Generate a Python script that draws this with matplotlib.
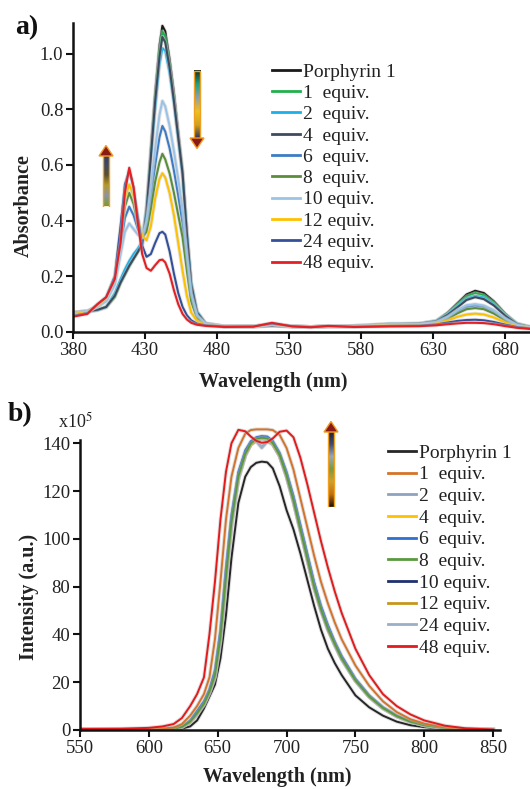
import matplotlib
matplotlib.use('Agg')
import numpy as np
import matplotlib.pyplot as plt
import matplotlib.patheffects as pe
from matplotlib.lines import Line2D
from matplotlib.patches import Polygon, Rectangle
from matplotlib.colors import LinearSegmentedColormap

plt.rcParams['font.family'] = ['Liberation Serif', 'DejaVu Serif']
plt.rcParams['mathtext.fontset'] = 'stix'

# ---------------- data: panel a (absorbance) ----------------
labels = ["Porphyrin 1", "1  equiv.", "2  equiv.", "4  equiv.", "6  equiv.",
          "8  equiv.", "10 equiv.", "12 equiv.", "24 equiv.", "48 equiv."]

wl_abs = [380, 390, 397, 403, 409, 413, 416, 419, 422, 425, 428, 431, 434, 437, 440,
          442, 444, 447, 450, 453, 456, 459, 462, 466, 472, 485, 505, 518, 532, 545,
          557, 575, 600, 620, 632, 640, 647, 653, 659, 665, 672, 680, 688, 697]

abs_p1 = [0.070, 0.075, 0.080, 0.090, 0.130, 0.180, 0.210, 0.240, 0.265, 0.290, 0.315, 0.45, 0.66, 0.86, 1.03,
          1.10, 1.08, 0.98, 0.86, 0.72, 0.58, 0.36, 0.17, 0.07, 0.03, 0.02, 0.02, 0.022, 0.02, 0.018,
          0.02, 0.02, 0.025, 0.028, 0.04, 0.07, 0.105, 0.135, 0.148, 0.14, 0.11, 0.065, 0.03, 0.018]
abs_1 = [0.070, 0.074, 0.079, 0.088, 0.125, 0.175, 0.205, 0.235, 0.262, 0.288, 0.315, 0.44, 0.64, 0.84, 1.01,
         1.08, 1.06, 0.96, 0.84, 0.70, 0.57, 0.35, 0.17, 0.07, 0.03, 0.02, 0.02, 0.022, 0.02, 0.018,
         0.02, 0.022, 0.028, 0.03, 0.04, 0.068, 0.10, 0.128, 0.14, 0.132, 0.105, 0.062, 0.03, 0.018]
abs_2 = [0.068, 0.072, 0.078, 0.090, 0.140, 0.190, 0.225, 0.255, 0.280, 0.300, 0.325, 0.44, 0.62, 0.80, 0.96,
         1.02, 1.01, 0.93, 0.82, 0.69, 0.56, 0.36, 0.18, 0.075, 0.032, 0.02, 0.02, 0.024, 0.02, 0.018,
         0.02, 0.022, 0.03, 0.03, 0.04, 0.065, 0.095, 0.12, 0.13, 0.124, 0.10, 0.06, 0.03, 0.018]
abs_4 = [0.070, 0.075, 0.080, 0.090, 0.130, 0.178, 0.208, 0.238, 0.263, 0.288, 0.315, 0.43, 0.63, 0.83, 0.99,
         1.06, 1.04, 0.95, 0.83, 0.70, 0.57, 0.35, 0.17, 0.07, 0.03, 0.02, 0.02, 0.022, 0.02, 0.018,
         0.02, 0.022, 0.028, 0.03, 0.038, 0.062, 0.09, 0.115, 0.125, 0.118, 0.095, 0.057, 0.028, 0.018]
abs_6 = [0.068, 0.075, 0.092, 0.115, 0.180, 0.310, 0.410, 0.450, 0.420, 0.370, 0.340, 0.38, 0.48, 0.60, 0.70,
         0.74, 0.72, 0.66, 0.58, 0.49, 0.39, 0.25, 0.12, 0.055, 0.028, 0.02, 0.02, 0.027, 0.02, 0.018,
         0.021, 0.02, 0.026, 0.027, 0.034, 0.052, 0.075, 0.09, 0.095, 0.09, 0.073, 0.045, 0.024, 0.016]
abs_8 = [0.066, 0.074, 0.094, 0.118, 0.190, 0.340, 0.450, 0.500, 0.460, 0.390, 0.340, 0.36, 0.44, 0.54, 0.61,
         0.64, 0.62, 0.57, 0.50, 0.42, 0.34, 0.22, 0.11, 0.05, 0.027, 0.02, 0.02, 0.028, 0.02, 0.018,
         0.021, 0.02, 0.025, 0.026, 0.032, 0.048, 0.068, 0.082, 0.086, 0.082, 0.066, 0.041, 0.022, 0.015]
abs_10 = [0.070, 0.075, 0.090, 0.110, 0.170, 0.280, 0.360, 0.390, 0.370, 0.350, 0.340, 0.40, 0.52, 0.66, 0.78,
          0.83, 0.81, 0.74, 0.65, 0.55, 0.44, 0.28, 0.14, 0.06, 0.03, 0.02, 0.02, 0.026, 0.02, 0.018,
          0.021, 0.02, 0.028, 0.028, 0.035, 0.055, 0.08, 0.096, 0.10, 0.095, 0.078, 0.048, 0.025, 0.016]
abs_12 = [0.064, 0.072, 0.095, 0.120, 0.200, 0.360, 0.480, 0.530, 0.490, 0.410, 0.345, 0.33, 0.38, 0.48, 0.55,
          0.57, 0.555, 0.50, 0.42, 0.32, 0.22, 0.13, 0.07, 0.04, 0.025, 0.02, 0.02, 0.029, 0.02, 0.018,
          0.021, 0.02, 0.024, 0.025, 0.03, 0.042, 0.055, 0.063, 0.066, 0.063, 0.052, 0.034, 0.02, 0.014]
abs_24 = [0.058, 0.068, 0.100, 0.125, 0.200, 0.380, 0.530, 0.580, 0.520, 0.410, 0.310, 0.27, 0.28, 0.32, 0.355,
          0.36, 0.35, 0.29, 0.21, 0.14, 0.09, 0.06, 0.042, 0.03, 0.024, 0.02, 0.02, 0.03, 0.021, 0.018,
          0.021, 0.019, 0.022, 0.023, 0.027, 0.034, 0.04, 0.043, 0.044, 0.042, 0.036, 0.026, 0.018, 0.013]
abs_48 = [0.055, 0.065, 0.100, 0.125, 0.190, 0.320, 0.500, 0.590, 0.520, 0.390, 0.280, 0.23, 0.22, 0.24, 0.258,
          0.26, 0.25, 0.21, 0.15, 0.10, 0.065, 0.045, 0.033, 0.026, 0.022, 0.018, 0.019, 0.033, 0.02, 0.017,
          0.022, 0.018, 0.02, 0.021, 0.024, 0.028, 0.031, 0.033, 0.033, 0.032, 0.028, 0.021, 0.015, 0.011]

colors_abs = ['#1a1a1a', '#22b04c', '#1cb0e8', '#3f4a5e', '#3d7cc4',
              '#5a8e3a', '#9cc3e6', '#ffc000', '#34509a', '#e42024']
abs_xticks = [380, 430, 480, 530, 580, 630, 680]
abs_yticks = [0.0, 0.2, 0.4, 0.6, 0.8, 1.0]

# ---------------- data: panel b (emission) ----------------
wl_em = [550, 580, 600, 610, 618, 624, 630, 635, 640, 644, 648, 652, 656, 660, 665,
         670, 674, 678, 682, 686, 690, 695, 700, 705, 710, 715, 720, 725, 730, 735,
         740, 750, 760, 770, 780, 790, 800, 815, 830, 850]

em_p1 = [0.2, 0.2, 0.3, 0.3, 0.4, 0.6, 1.5, 4, 9, 14, 19, 30, 48, 72, 95,
         106, 110, 111.8, 112.3, 112, 109.5, 102, 92, 84, 74, 63, 52, 42, 34, 28,
         23, 14.5, 9.5, 6, 3.5, 2, 1.2, 0.5, 0.2, 0.1]
em_1 = [0.2, 0.3, 0.5, 0.7, 1, 2.5, 6, 10, 15, 22, 38, 62, 88, 106, 118,
        124, 125.5, 125.8, 125.8, 125.8, 125.5, 123.5, 118, 109, 97, 85, 73, 62, 53, 45,
        38, 27, 18.5, 12, 7.5, 4.5, 2.7, 1.1, 0.4, 0.1]
em_2 = [0.2, 0.2, 0.3, 0.4, 0.6, 1.2, 3.2, 6.5, 10.5, 15.5, 22, 37, 62, 86, 105,
        115, 119.8, 121.2, 118.5, 121, 119.8, 114.5, 106, 95.5, 83.5, 71.5, 59.5, 50, 42, 35.5,
        29.5, 20.5, 13.8, 9, 5.7, 3.4, 2, 0.8, 0.3, 0.1]
em_4 = [0.2, 0.2, 0.3, 0.4, 0.6, 1.3, 3.6, 7.2, 11.2, 16.3, 23.5, 40, 65, 88, 106.5,
        115.5, 119.5, 121.5, 122, 121.8, 119.8, 115, 106.8, 96.5, 84.5, 72.5, 60.5, 51, 43, 36.3,
        30.3, 21, 14.2, 9.3, 5.9, 3.5, 2, 0.8, 0.3, 0.1]
em_6 = [0.2, 0.2, 0.3, 0.4, 0.7, 1.5, 4, 8, 12, 17, 25, 42, 68, 90, 108,
        117, 120.8, 122.5, 123, 122.8, 121, 116, 108, 98, 86, 74, 62, 52, 44, 37,
        31, 21.5, 14.5, 9.5, 6, 3.6, 2.1, 0.9, 0.3, 0.1]
em_8 = [0.2, 0.2, 0.3, 0.4, 0.6, 1.3, 3.5, 7, 11, 16, 23, 39, 64, 87, 106,
        115.5, 119.8, 121.8, 122.3, 122, 120, 115, 106.5, 96, 84, 72, 60, 50.5, 42.5, 36,
        30, 20.8, 14, 9.2, 5.8, 3.5, 2, 0.8, 0.3, 0.1]
em_10 = [0.2, 0.2, 0.3, 0.4, 0.6, 1.2, 3.3, 6.8, 10.8, 15.7, 22.5, 38, 63, 86.5, 105.5,
         115, 119.5, 121.5, 122, 121.7, 119.6, 114.6, 106, 95.5, 83.5, 71.5, 59.5, 50, 42, 35.6,
         29.7, 20.6, 13.9, 9.1, 5.7, 3.4, 2, 0.8, 0.3, 0.1]
em_12 = [0.2, 0.2, 0.3, 0.4, 0.6, 1.3, 3.4, 7, 11, 16, 23, 39.5, 64.5, 87, 105.8,
         115.2, 119.3, 121.2, 121.8, 121.5, 119.5, 114.8, 106.5, 96.2, 84.2, 72.2, 60.2, 50.7, 42.7, 36.1,
         30.1, 20.9, 14.1, 9.2, 5.8, 3.5, 2, 0.8, 0.3, 0.1]
em_24 = [0.2, 0.2, 0.3, 0.4, 0.6, 1.2, 3.2, 6.5, 10.5, 15.5, 22, 37.5, 62.5, 86, 104.8,
         114.7, 119.5, 120.8, 118, 120.6, 119.5, 114.8, 106.3, 95.8, 83.8, 71.8, 59.8, 50.3, 42.3, 35.8,
         29.8, 20.7, 13.9, 9.1, 5.8, 3.5, 2, 0.8, 0.3, 0.1]
em_48 = [0.4, 0.5, 0.9, 1.5, 2.5, 5, 10, 15, 22, 40, 62, 88, 108, 120, 125.6,
         125, 122.8, 121, 120.2, 120.5, 122, 124.8, 125.3, 122.5, 114, 103, 91, 79, 68, 58,
         49, 34, 23, 15, 10, 6.5, 4, 1.8, 0.7, 0.2]

colors_em = ['#262626', '#d4742c', '#8ea2c0', '#ffc000', '#2f6fd0',
             '#5a9a3c', '#1f3070', '#c8961e', '#9aaec8', '#e41a1c']
em_xticks = [550, 600, 650, 700, 750, 800, 850]
em_ytick_pos = [0, 20, 40, 60, 80, 100, 120]
em_ytick_labels = ['0', '20', '40', '80', '100', '120', '140']

abs_series = [abs_p1, abs_1, abs_2, abs_4, abs_6, abs_8, abs_10, abs_12, abs_24, abs_48]
em_series = [em_p1, em_1, em_2, em_4, em_6, em_8, em_10, em_12, em_24, em_48]
em_draw_order = [0, 2, 8, 6, 7, 3, 4, 5, 1, 9]   # layering of the emission curves

# ---------------- figure ----------------
W, H = 530, 789
fig = plt.figure(figsize=(W / 100, H / 100), dpi=100)
TXT = '#222222'


def style_axes(ax):
    for s in ['top', 'right']:
        ax.spines[s].set_visible(False)
    for s in ['left', 'bottom']:
        ax.spines[s].set_linewidth(1.8)
        ax.spines[s].set_color('#111111')
    ax.tick_params(direction='out', length=5, width=1.5, color='#111111',
                   labelsize=13.5, labelcolor=TXT, pad=2)


# Panel a
axA = fig.add_axes([73 / W, 1 - 332 / H, (W - 73) / W, (332 - 23) / H])
for ys, c in zip(abs_series, colors_abs):
    axA.plot(wl_abs, ys, color=c, lw=1.5,
             path_effects=[pe.Stroke(linewidth=2.8, foreground='#c8c8c8', alpha=0.45), pe.Normal()])
axA.set_xlim(380, 697)
axA.set_ylim(0, 1.11)
axA.set_xticks(abs_xticks)
axA.set_yticks(abs_yticks)
axA.set_yticklabels([f'{v:.1f}' for v in abs_yticks])
style_axes(axA)
axA.set_xlabel('Wavelength (nm)', fontsize=14.5, fontweight='bold', color=TXT)
axA.xaxis.set_label_coords(0.438, -0.128)
axA.set_ylabel('Absorbance', fontsize=14.5, fontweight='bold', color=TXT)
axA.yaxis.set_label_coords(-0.086, 0.41)

hA = [Line2D([], [], color=c, lw=2) for c in colors_abs]
axA.legend(hA, labels, loc='upper left', bbox_to_anchor=(272 / W, 1 - 63 / H),
           bbox_transform=fig.transFigure, frameon=False, fontsize=14,
           handlelength=1.45, handletextpad=0.12, labelspacing=0.19,
           borderpad=0, borderaxespad=0, labelcolor=TXT)

# Panel b
axB = fig.add_axes([80 / W, 1 - 730 / H, 420 / W, (730 - 426.5) / H])
for i in em_draw_order:
    axB.plot(wl_em, em_series[i], color=colors_em[i], lw=1.4,
             path_effects=[pe.Stroke(linewidth=2.8, foreground='#b8b8b8', alpha=0.45), pe.Normal()])
axB.set_xlim(550, 855)
axB.set_ylim(0, 127)
axB.set_xticks(em_xticks)
axB.set_yticks(em_ytick_pos)
axB.set_yticklabels(em_ytick_labels)
style_axes(axB)
axB.spines['left'].set_bounds(0, 121.5)
axB.spines['bottom'].set_bounds(550, 855)
axB.set_xlabel('Wavelength (nm)', fontsize=14.5, fontweight='bold', color=TXT)
axB.xaxis.set_label_coords(0.469, -0.122)
axB.set_ylabel('Intensity (a.u.)', fontsize=14.5, fontweight='bold', color=TXT)
axB.yaxis.set_label_coords(-0.098, 0.438)

hB = [Line2D([], [], color=c, lw=2) for c in colors_em]
axB.legend(hB, labels, loc='upper left', bbox_to_anchor=(388 / W, 1 - 444 / H),
           bbox_transform=fig.transFigure, frameon=False, fontsize=14,
           handlelength=1.45, handletextpad=0.12, labelspacing=0.21,
           borderpad=0, borderaxespad=0, labelcolor=TXT)

# panel letters and multiplier
fig.text(15 / W, 1 - 28 / H, 'a)', fontsize=20, fontweight='bold', va='center', ha='left', color='#111')
fig.text(8 / W, 1 - 415 / H, 'b)', fontsize=20, fontweight='bold', va='center', ha='left', color='#111')
fig.text(58 / W, 1 - 422 / H, r'x10$^{5}$', fontsize=13, va='center', ha='left', color=TXT)


# gradient arrows (decorative)
def grad_arrow(xc, y_top, y_bot, cols, up=True):
    w = 18.0
    h = float(y_bot - y_top)
    ax = fig.add_axes([(xc - w / 2) / W, 1 - y_bot / H, w / W, h / H])
    ax.set_xlim(0, w)
    ax.set_ylim(0, h)
    ax.axis('off')
    head = 11.0
    x0, x1 = w / 2 - 3.2, w / 2 + 3.2
    cmap = LinearSegmentedColormap.from_list('g', cols)
    grad = np.linspace(0, 1, 200).reshape(-1, 1)
    if up:
        s0, s1 = 0.5, h - head + 1
        tri = [(w / 2 - 7, h - head), (w / 2 + 7, h - head), (w / 2, h - 0.5)]
    else:
        s0, s1 = head - 1, h - 0.5
        tri = [(w / 2 - 7, head), (w / 2 + 7, head), (w / 2, 0.5)]
    ax.imshow(grad, extent=(x0, x1, s0, s1), origin='lower', aspect='auto', cmap=cmap)
    ax.add_patch(Rectangle((x0, s0), x1 - x0, s1 - s0, fill=False, ec='#f0a020', lw=1.0))
    ax.add_patch(Polygon(tri, closed=True, fc='#8a1a18', ec='#f09a20', lw=1.0))


grad_arrow(106, 145, 207, ['#7a9a30', '#8896a8', '#b09a30', '#5a5030', '#3a4a6a', '#3a3a5a'], up=True)
grad_arrow(197, 70, 149, ['#202a60', '#d0a020', '#f0c020', '#90a0a8', '#20a080', '#1a2a20'], up=False)
grad_arrow(331, 421, 507, ['#1a1008', '#c07010', '#d0a030', '#7a9a40', '#9aa8b8', '#404a6a', '#202030'], up=True)

fig.savefig('out.png', dpi=100)
